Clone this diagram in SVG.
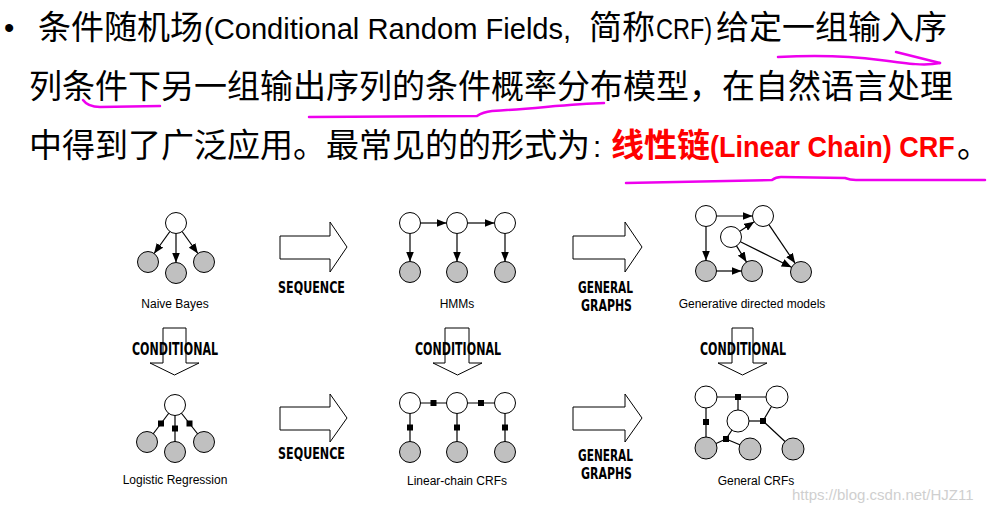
<svg xmlns="http://www.w3.org/2000/svg" width="991" height="513" viewBox="0 0 991 513">
<style>
.cjk{font-family:"Noto Sans CJK SC","Noto Sans",sans-serif;font-size:33px;fill:#000}
.lat{font-family:"Liberation Sans",Arial,sans-serif;font-size:29.5px;fill:#000}
.red{fill:#ff0000;font-weight:bold}
.hl{fill:none;stroke:#ee00ee;stroke-width:2.5;stroke-linecap:round;stroke-linejoin:round}
.lbl{font-family:"Liberation Sans",Arial,sans-serif;font-size:12px;fill:#000;text-anchor:middle}
.big{font-family:"Liberation Sans Narrow","DejaVu Sans Condensed","Liberation Sans",sans-serif;font-weight:bold;fill:#000}
.blk{fill:#fff;stroke:#000;stroke-width:1}
.w{fill:#fff;stroke:#000;stroke-width:1}
.g{fill:#c0c0c0;stroke:#000;stroke-width:1}
.e{stroke:#000;stroke-width:1.2;fill:none}
.sq{fill:#000}
.wm{font-family:"Liberation Sans",Arial,sans-serif;font-size:15px;fill:#cfcfcf}
</style>
<defs>
<marker id="ah" viewBox="0 0 10 8" refX="10" refY="4" markerWidth="10" markerHeight="8" markerUnits="userSpaceOnUse" orient="auto">
<path d="M0,0 L10,4 L0,8 z" fill="#000"/>
</marker>
</defs>
<rect width="991" height="513" fill="#fff"/>

<g id="title-text">
<text class="lat" x="4" y="38" font-size="28">•</text>
<text class="cjk" x="38" y="39">条件随机场</text>
<text class="lat" transform="translate(204,39) scale(0.9,1)" x="0" y="0" textLength="408" lengthAdjust="spacingAndGlyphs">(Conditional Random Fields,</text>
<text class="cjk" x="589" y="39">简称</text>
<text class="lat" transform="translate(656,39) scale(0.85,1)" x="0" y="0" textLength="66" lengthAdjust="spacingAndGlyphs">CRF)</text>
<text class="cjk" x="716" y="39">给定一组输入序</text>
<text class="cjk" x="29" y="98">列条件下另一组输出序列的条件概率分布模型，在自然语言处理</text>
<text class="cjk" x="29" y="157">中得到了广泛应用。最常见的的形式为</text>
<text class="lat" x="593" y="157">:</text>
<text class="cjk red" x="611" y="157">线性链</text>
<text class="lat red" transform="translate(710,157) scale(0.92,1)" x="0" y="0" textLength="266" lengthAdjust="spacingAndGlyphs">(Linear Chain) CRF</text>
<text class="cjk" x="957" y="157">。</text>
</g>

<g id="highlights">
<path class="hl" d="M778,57 C820,55 850,56 880,60 S925,66 940,63"/>
<path class="hl" d="M896,52 L940,63"/>
<path class="hl" d="M83,100 Q88,107 100,107 L160,106"/>
<path class="hl" d="M309,117 L477,116 Q483,112 492,111 C540,108 570,104 604,103"/>
<path class="hl" d="M626,183 L772,180 Q776,177 781,177 L845,178 Q850,180 856,180 L985,180"/>
</g>

<g id="connectors">
<line class="e" x1="169.9" y1="231.5" x2="154.1" y2="253.5" marker-end="url(#ah)"/>
<line class="e" x1="176" y1="233.5" x2="176" y2="262.5" marker-end="url(#ah)"/>
<line class="e" x1="182.1" y1="231.5" x2="197.9" y2="253.5" marker-end="url(#ah)"/>
<line class="e" x1="420.5" y1="223" x2="446.5" y2="223" marker-end="url(#ah)"/>
<line class="e" x1="467.5" y1="223" x2="494.5" y2="223" marker-end="url(#ah)"/>
<line class="e" x1="410" y1="233.5" x2="410" y2="261.5" marker-end="url(#ah)"/>
<line class="e" x1="457" y1="233.5" x2="457" y2="261.5" marker-end="url(#ah)"/>
<line class="e" x1="505" y1="233.5" x2="505" y2="261.5" marker-end="url(#ah)"/>
<line class="e" x1="716.5" y1="216" x2="752.5" y2="216" marker-end="url(#ah)"/>
<line class="e" x1="706" y1="226.5" x2="706" y2="260.5" marker-end="url(#ah)"/>
<line class="e" x1="739.8" y1="231.2" x2="754.2" y2="221.8" marker-end="url(#ah)"/>
<line class="e" x1="736.5" y1="245.9" x2="746.5" y2="262.1" marker-end="url(#ah)"/>
<line class="e" x1="740.4" y1="241.7" x2="791.6" y2="267.3" marker-end="url(#ah)"/>
<line class="e" x1="768.9" y1="224.7" x2="795.1" y2="263.3" marker-end="url(#ah)"/>
<line class="e" x1="716.5" y1="271" x2="741.5" y2="271" marker-end="url(#ah)"/>
<line class="e" x1="175" y1="405" x2="147" y2="442"/>
<line class="e" x1="175" y1="405" x2="175" y2="452"/>
<line class="e" x1="175" y1="405" x2="204" y2="442"/>
<line class="e" x1="410" y1="403" x2="505" y2="403"/>
<line class="e" x1="410" y1="403" x2="410" y2="452"/>
<line class="e" x1="457" y1="403" x2="457" y2="452"/>
<line class="e" x1="505" y1="403" x2="505" y2="452"/>
<line class="e" x1="706" y1="397" x2="777" y2="397"/>
<line class="e" x1="738" y1="397" x2="738" y2="421"/>
<line class="e" x1="706" y1="397" x2="706" y2="448"/>
<line class="e" x1="738" y1="421" x2="763" y2="421"/>
<line class="e" x1="763" y1="421" x2="777" y2="397"/>
<line class="e" x1="763" y1="421" x2="793" y2="449"/>
<line class="e" x1="726" y1="439" x2="706" y2="448"/>
<line class="e" x1="726" y1="439" x2="750" y2="449"/>
<line class="e" x1="726" y1="439" x2="738" y2="421"/>
</g>

<g id="block-arrows">
<polygon class="blk" points="280,236 330,236 330,222 347,247 330,272 330,259 280,259"/>
<polygon class="blk" points="573,236 625,236 625,222 642,247 625,272 625,259 573,259"/>
<polygon class="blk" points="280,407 330,407 330,394 347,418 330,442 330,430 280,430"/>
<polygon class="blk" points="573,407 625,407 625,394 642,418 625,442 625,430 573,430"/>
<polygon class="blk" points="163,328 186,328 186,363 199,363 174.5,375 150,363 163,363"/>
<polygon class="blk" points="445,328 469,328 469,363 482,363 457.5,375 433,363 445,363"/>
<polygon class="blk" points="732,328 753,328 753,363 767,363 742.5,375 718,363 732,363"/>
</g>

<g id="arrow-labels">
<text class="big" x="278" y="293" font-size="16" textLength="67" lengthAdjust="spacingAndGlyphs">SEQUENCE</text>
<text class="big" x="278" y="459" font-size="16" textLength="67" lengthAdjust="spacingAndGlyphs">SEQUENCE</text>
<text class="big" x="578" y="293" font-size="16" textLength="55" lengthAdjust="spacingAndGlyphs">GENERAL</text>
<text class="big" x="581" y="311" font-size="16" textLength="51" lengthAdjust="spacingAndGlyphs">GRAPHS</text>
<text class="big" x="578" y="461" font-size="16" textLength="55" lengthAdjust="spacingAndGlyphs">GENERAL</text>
<text class="big" x="581" y="479" font-size="16" textLength="51" lengthAdjust="spacingAndGlyphs">GRAPHS</text>
<text class="big" x="132" y="355" font-size="18" textLength="86" lengthAdjust="spacingAndGlyphs">CONDITIONAL</text>
<text class="big" x="415" y="355" font-size="18" textLength="86" lengthAdjust="spacingAndGlyphs">CONDITIONAL</text>
<text class="big" x="700" y="355" font-size="18" textLength="86" lengthAdjust="spacingAndGlyphs">CONDITIONAL</text>
</g>

<g id="naive-bayes">
<circle class="w" cx="176" cy="223" r="10.5"/>
<circle class="g" cx="148" cy="262" r="10.5"/>
<circle class="g" cx="176" cy="273" r="10.5"/>
<circle class="g" cx="204" cy="262" r="10.5"/>
<text class="lbl" x="175" y="308">Naive Bayes</text>
</g>

<g id="hmms">
<circle class="w" cx="410" cy="223" r="10.5"/>
<circle class="w" cx="457" cy="223" r="10.5"/>
<circle class="w" cx="505" cy="223" r="10.5"/>
<circle class="g" cx="410" cy="272" r="10.5"/>
<circle class="g" cx="457" cy="272" r="10.5"/>
<circle class="g" cx="505" cy="272" r="10.5"/>
<text class="lbl" x="457" y="308">HMMs</text>
</g>

<g id="generative-directed">
<circle class="w" cx="706" cy="216" r="10.5"/>
<circle class="w" cx="763" cy="216" r="10.5"/>
<circle class="w" cx="731" cy="237" r="10.5"/>
<circle class="g" cx="706" cy="271" r="10.5"/>
<circle class="g" cx="752" cy="271" r="10.5"/>
<circle class="g" cx="801" cy="272" r="10.5"/>
<text class="lbl" x="752" y="308">Generative directed models</text>
</g>

<g id="logistic-regression">
<circle class="w" cx="175" cy="405" r="10.5"/>
<circle class="g" cx="147" cy="442" r="10.5"/>
<circle class="g" cx="175" cy="452" r="10.5"/>
<circle class="g" cx="204" cy="442" r="10.5"/>
<rect class="sq" x="158" y="420.5" width="6" height="6"/>
<rect class="sq" x="172" y="425.5" width="6" height="6"/>
<rect class="sq" x="186.5" y="420.5" width="6" height="6"/>
<text class="lbl" x="175" y="484">Logistic Regression</text>
</g>

<g id="linear-chain-crfs">
<circle class="w" cx="410" cy="403" r="10.5"/>
<circle class="w" cx="457" cy="403" r="10.5"/>
<circle class="w" cx="505" cy="403" r="10.5"/>
<circle class="g" cx="410" cy="452" r="10.5"/>
<circle class="g" cx="457" cy="452" r="10.5"/>
<circle class="g" cx="505" cy="452" r="10.5"/>
<rect class="sq" x="430.5" y="400" width="6" height="6"/>
<rect class="sq" x="478" y="400" width="6" height="6"/>
<rect class="sq" x="407" y="424.5" width="6" height="6"/>
<rect class="sq" x="454" y="424.5" width="6" height="6"/>
<rect class="sq" x="502" y="424.5" width="6" height="6"/>
<text class="lbl" x="457" y="485">Linear-chain CRFs</text>
</g>

<g id="general-crfs">
<circle class="w" cx="706" cy="397" r="11"/>
<circle class="w" cx="777" cy="397" r="11"/>
<circle class="w" cx="738" cy="421" r="11"/>
<circle class="g" cx="706" cy="448" r="11"/>
<circle class="g" cx="750" cy="449" r="11"/>
<circle class="g" cx="793" cy="449" r="11"/>
<rect class="sq" x="735" y="394" width="6" height="6"/>
<rect class="sq" x="703" y="419" width="6" height="6"/>
<rect class="sq" x="760" y="418" width="6" height="6"/>
<rect class="sq" x="723" y="436" width="6" height="6"/>
<text class="lbl" x="756" y="485">General CRFs</text>
</g>

<text class="wm" x="792" y="500">https://blog.csdn.net/HJZ11</text>
</svg>
